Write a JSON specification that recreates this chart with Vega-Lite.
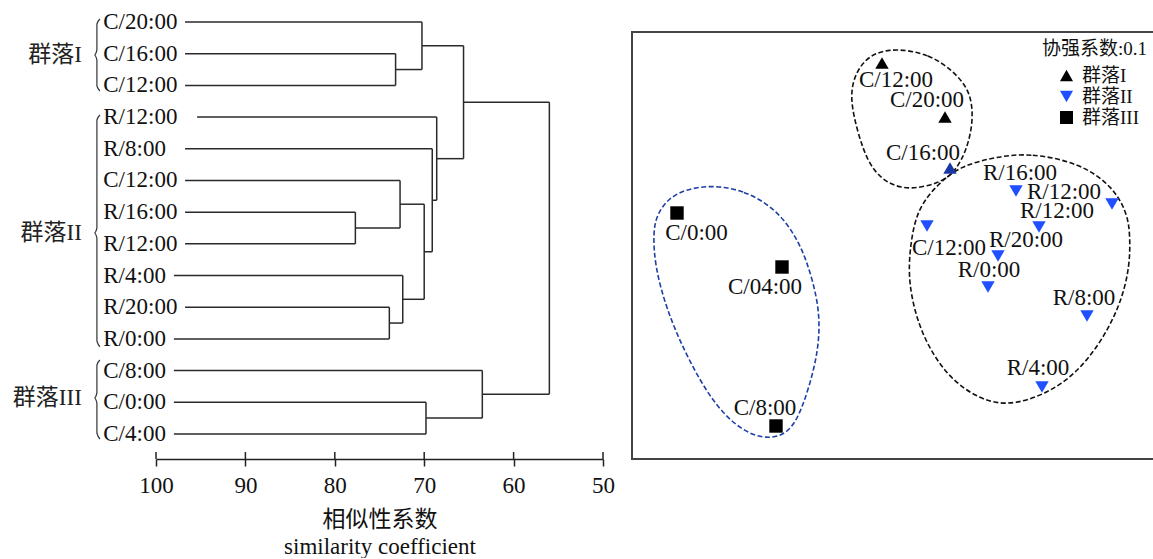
{
  "$schema": "https://vega.github.io/schema/vega-lite/v6.json",
  "padding": {"left": 12, "top": 10, "right": 0, "bottom": 0},
  "bounds": "flush",
  "spacing": 29,
  "config": {
    "font": "Liberation Serif, Noto Sans CJK SC",
    "view": {"stroke": null},
    "text": {"font": "Liberation Serif, Noto Sans CJK SC"}
  },
  "hconcat": [
    {
      "width": 447,
      "height": 427,
      "layer": [
        {
          "data": {"values": [
            {"s1": 96.75, "s2": 70.25, "i1": 0, "i2": 0},
            {"s1": 96.75, "s2": 73.2, "i1": 1, "i2": 1},
            {"s1": 96.75, "s2": 73.2, "i1": 2, "i2": 2},
            {"s1": 73.2, "s2": 70.25, "i1": 1.5, "i2": 1.5},
            {"s1": 70.25, "s2": 65.6, "i1": 0.75, "i2": 0.75},
            {"s1": 95.4, "s2": 68.6, "i1": 3, "i2": 3},
            {"s1": 96.75, "s2": 69.1, "i1": 4, "i2": 4},
            {"s1": 96.75, "s2": 72.7, "i1": 5, "i2": 5},
            {"s1": 96.75, "s2": 77.7, "i1": 6, "i2": 6},
            {"s1": 96.75, "s2": 77.7, "i1": 7, "i2": 7},
            {"s1": 77.7, "s2": 72.7, "i1": 6.5, "i2": 6.5},
            {"s1": 72.7, "s2": 70.0, "i1": 5.75, "i2": 5.75},
            {"s1": 98.0, "s2": 72.4, "i1": 8, "i2": 8},
            {"s1": 96.75, "s2": 73.9, "i1": 9, "i2": 9},
            {"s1": 98.0, "s2": 73.9, "i1": 10, "i2": 10},
            {"s1": 73.9, "s2": 72.4, "i1": 9.5, "i2": 9.5},
            {"s1": 72.4, "s2": 70.0, "i1": 8.75, "i2": 8.75},
            {"s1": 70.0, "s2": 69.1, "i1": 7.25, "i2": 7.25},
            {"s1": 69.1, "s2": 68.6, "i1": 5.625, "i2": 5.625},
            {"s1": 68.6, "s2": 65.6, "i1": 4.3125, "i2": 4.3125},
            {"s1": 65.6, "s2": 56.0, "i1": 2.53, "i2": 2.53},
            {"s1": 98.0, "s2": 63.5, "i1": 11, "i2": 11},
            {"s1": 98.0, "s2": 69.8, "i1": 12, "i2": 12},
            {"s1": 98.0, "s2": 69.8, "i1": 13, "i2": 13},
            {"s1": 69.8, "s2": 63.5, "i1": 12.5, "i2": 12.5},
            {"s1": 63.5, "s2": 56.0, "i1": 11.75, "i2": 11.75},
            {"s1": 73.2, "s2": 73.2, "i1": 1, "i2": 2},
            {"s1": 70.25, "s2": 70.25, "i1": 0, "i2": 1.5},
            {"s1": 77.7, "s2": 77.7, "i1": 6, "i2": 7},
            {"s1": 72.7, "s2": 72.7, "i1": 5, "i2": 6.5},
            {"s1": 73.9, "s2": 73.9, "i1": 9, "i2": 10},
            {"s1": 72.4, "s2": 72.4, "i1": 8, "i2": 9.5},
            {"s1": 70.0, "s2": 70.0, "i1": 5.75, "i2": 8.75},
            {"s1": 69.1, "s2": 69.1, "i1": 4, "i2": 7.25},
            {"s1": 68.6, "s2": 68.6, "i1": 3, "i2": 5.625},
            {"s1": 65.6, "s2": 65.6, "i1": 0.75, "i2": 4.3125},
            {"s1": 69.8, "s2": 69.8, "i1": 12, "i2": 13},
            {"s1": 63.5, "s2": 63.5, "i1": 11, "i2": 12.5},
            {"s1": 56.0, "s2": 56.0, "i1": 2.53, "i2": 11.75}
          ]},
          "mark": {"type": "rule", "color": "#2a2a2a", "strokeWidth": 1.5},
          "encoding": {
            "x": {
              "field": "s1", "type": "quantitative",
              "scale": {"domain": [100, 50], "nice": false, "zero": false},
              "axis": {
                "values": [100, 90, 80, 70, 60, 50],
                "grid": false,
                "domainColor": "#222", "domainWidth": 1.5,
                "tickColor": "#222", "tickWidth": 1.5, "tickSize": 7,
                "labelFontSize": 23, "labelColor": "#111", "labelPadding": 8,
                "labelFlush": false, "labelOverlap": false,
                "labelFont": "Liberation Serif",
                "title": ["相似性系数", "similarity coefficient"],
                "titleFont": "Liberation Serif, Noto Sans CJK SC",
                "titleFontSize": 23, "titleFontWeight": "normal", "titleColor": "#111",
                "titlePadding": 11, "titleLineHeight": 27
              }
            },
            "x2": {"field": "s2"},
            "y": {
              "field": "i1", "type": "quantitative",
              "scale": {"domain": [0.3156, 13.79], "reverse": true, "nice": false, "zero": false},
              "axis": null
            },
            "y2": {"field": "i2"}
          }
        },
        {
          "data": {"values": [{"tick": 100}, {"tick": 90}, {"tick": 80}, {"tick": 70}, {"tick": 60}, {"tick": 50}]},
          "mark": {"type": "rule", "color": "#222", "strokeWidth": 1.5},
          "encoding": {
            "x": {"field": "tick", "type": "quantitative"},
            "y": {"datum": 13.57},
            "y2": {"datum": 13.79}
          }
        },
        {
          "data": {"values": [
            {"name": "C/20:00", "i": 0},
            {"name": "C/16:00", "i": 1},
            {"name": "C/12:00", "i": 2},
            {"name": "R/12:00", "i": 3},
            {"name": "R/8:00", "i": 4},
            {"name": "C/12:00", "i": 5},
            {"name": "R/16:00", "i": 6},
            {"name": "R/12:00", "i": 7},
            {"name": "R/4:00", "i": 8},
            {"name": "R/20:00", "i": 9},
            {"name": "R/0:00", "i": 10},
            {"name": "C/8:00", "i": 11},
            {"name": "C/0:00", "i": 12},
            {"name": "C/4:00", "i": 13}
          ]},
          "mark": {"type": "text", "align": "left", "baseline": "middle", "fontSize": 23, "color": "#111"},
          "encoding": {
            "x": {"datum": 105.9},
            "y": {"field": "i", "type": "quantitative"},
            "text": {"field": "name"}
          }
        },
        {
          "data": {"values": [
            {"b": "I", "k": 0, "s": 106.27, "i": -0.095},
            {"b": "I", "k": 1, "s": 106.61, "i": 0.063},
            {"b": "I", "k": 2, "s": 106.61, "i": 0.884},
            {"b": "I", "k": 3, "s": 106.89, "i": 1.041},
            {"b": "I", "k": 4, "s": 106.61, "i": 1.199},
            {"b": "I", "k": 5, "s": 106.61, "i": 2.02},
            {"b": "I", "k": 6, "s": 106.27, "i": 2.177},
            {"b": "II", "k": 0, "s": 106.27, "i": 2.935},
            {"b": "II", "k": 1, "s": 106.61, "i": 3.092},
            {"b": "II", "k": 2, "s": 106.61, "i": 6.5},
            {"b": "II", "k": 3, "s": 106.89, "i": 6.658},
            {"b": "II", "k": 4, "s": 106.61, "i": 6.816},
            {"b": "II", "k": 5, "s": 106.61, "i": 10.066},
            {"b": "II", "k": 6, "s": 106.27, "i": 10.246},
            {"b": "III", "k": 0, "s": 106.27, "i": 10.666},
            {"b": "III", "k": 1, "s": 106.61, "i": 10.824},
            {"b": "III", "k": 2, "s": 106.61, "i": 11.707},
            {"b": "III", "k": 3, "s": 106.89, "i": 11.865},
            {"b": "III", "k": 4, "s": 106.61, "i": 12.023},
            {"b": "III", "k": 5, "s": 106.61, "i": 12.97},
            {"b": "III", "k": 6, "s": 106.27, "i": 13.159}
          ]},
          "mark": {"type": "line", "color": "#333", "strokeWidth": 1.2, "interpolate": "monotone"},
          "encoding": {
            "x": {"field": "s", "type": "quantitative"},
            "y": {"field": "i", "type": "quantitative"},
            "detail": {"field": "b"},
            "order": {"field": "k", "type": "quantitative"}
          }
        },
        {
          "data": {"values": [
            {"grp": "群落I", "i": 1.041},
            {"grp": "群落II", "i": 6.658},
            {"grp": "群落III", "i": 11.865}
          ]},
          "mark": {"type": "text", "align": "right", "baseline": "middle", "fontSize": 23, "color": "#222"},
          "encoding": {
            "x": {"datum": 108.3},
            "y": {"field": "i", "type": "quantitative"},
            "text": {"field": "grp"}
          }
        }
      ]
    },
    {
      "width": 523,
      "height": 427,
      "view": {"stroke": "#444", "strokeWidth": 2},
      "layer": [
        {
          "data": {"values": [
            {"e": "I", "k": 0, "x": 2.547, "y": 4.107},
            {"e": "I", "k": 1, "x": 2.98, "y": 4.05},
            {"e": "I", "k": 2, "x": 3.28, "y": 3.813},
            {"e": "I", "k": 3, "x": 3.397, "y": 3.613},
            {"e": "I", "k": 4, "x": 3.41, "y": 3.35},
            {"e": "I", "k": 5, "x": 3.347, "y": 3.08},
            {"e": "I", "k": 6, "x": 3.23, "y": 2.86},
            {"e": "I", "k": 7, "x": 3.08, "y": 2.75},
            {"e": "I", "k": 8, "x": 2.78, "y": 2.68},
            {"e": "I", "k": 9, "x": 2.56, "y": 2.74},
            {"e": "I", "k": 10, "x": 2.41, "y": 2.88},
            {"e": "I", "k": 11, "x": 2.31, "y": 3.08},
            {"e": "I", "k": 12, "x": 2.21, "y": 3.43},
            {"e": "I", "k": 13, "x": 2.18, "y": 3.71},
            {"e": "I", "k": 14, "x": 2.30, "y": 3.98},
            {"e": "II", "k": 0, "x": 3.647, "y": 3.013},
            {"e": "II", "k": 1, "x": 3.98, "y": 3.05},
            {"e": "II", "k": 2, "x": 4.48, "y": 2.95},
            {"e": "II", "k": 3, "x": 4.81, "y": 2.713},
            {"e": "II", "k": 4, "x": 4.95, "y": 2.45},
            {"e": "II", "k": 5, "x": 4.98, "y": 2.25},
            {"e": "II", "k": 6, "x": 4.98, "y": 1.913},
            {"e": "II", "k": 7, "x": 4.88, "y": 1.513},
            {"e": "II", "k": 8, "x": 4.647, "y": 1.08},
            {"e": "II", "k": 9, "x": 4.31, "y": 0.713},
            {"e": "II", "k": 10, "x": 3.81, "y": 0.513},
            {"e": "II", "k": 11, "x": 3.48, "y": 0.58},
            {"e": "II", "k": 12, "x": 3.147, "y": 0.813},
            {"e": "II", "k": 13, "x": 2.88, "y": 1.25},
            {"e": "II", "k": 14, "x": 2.76, "y": 1.75},
            {"e": "II", "k": 15, "x": 2.78, "y": 2.113},
            {"e": "II", "k": 16, "x": 2.847, "y": 2.48},
            {"e": "II", "k": 17, "x": 3.047, "y": 2.73},
            {"e": "II", "k": 18, "x": 3.28, "y": 2.92},
            {"e": "III", "k": 0, "x": 0.747, "y": 2.737},
            {"e": "III", "k": 1, "x": 1.13, "y": 2.68},
            {"e": "III", "k": 2, "x": 1.447, "y": 2.48},
            {"e": "III", "k": 3, "x": 1.63, "y": 2.23},
            {"e": "III", "k": 4, "x": 1.747, "y": 1.98},
            {"e": "III", "k": 5, "x": 1.86, "y": 1.58},
            {"e": "III", "k": 6, "x": 1.88, "y": 1.25},
            {"e": "III", "k": 7, "x": 1.83, "y": 0.913},
            {"e": "III", "k": 8, "x": 1.71, "y": 0.513},
            {"e": "III", "k": 9, "x": 1.58, "y": 0.25},
            {"e": "III", "k": 10, "x": 1.347, "y": 0.18},
            {"e": "III", "k": 11, "x": 1.08, "y": 0.28},
            {"e": "III", "k": 12, "x": 0.81, "y": 0.55},
            {"e": "III", "k": 13, "x": 0.547, "y": 1.013},
            {"e": "III", "k": 14, "x": 0.347, "y": 1.48},
            {"e": "III", "k": 15, "x": 0.23, "y": 1.913},
            {"e": "III", "k": 16, "x": 0.21, "y": 2.25},
            {"e": "III", "k": 17, "x": 0.25, "y": 2.45},
            {"e": "III", "k": 18, "x": 0.41, "y": 2.65}
          ]},
          "mark": {"type": "line", "interpolate": "basis-closed", "strokeWidth": 1.6, "strokeDash": [5, 2.5]},
          "encoding": {
            "x": {"field": "x", "type": "quantitative", "scale": {"domain": [0, 5.23], "nice": false, "zero": false}, "axis": null},
            "y": {"field": "y", "type": "quantitative", "scale": {"domain": [-0.01, 4.26], "nice": false, "zero": false}, "axis": null},
            "detail": {"field": "e"},
            "order": {"field": "k", "type": "quantitative"},
            "stroke": {"field": "e", "type": "nominal", "scale": {"domain": ["I", "II", "III"], "range": ["#111111", "#111111", "#1f3fa6"]}, "legend": null}
          }
        },
        {
          "data": {"name": "pts", "values": [
            {"t": "C/12:00", "g": "群落I", "x": 2.50, "y": 3.95, "lx": 2.64, "ly": 3.78},
            {"t": "C/20:00", "g": "群落I", "x": 3.13, "y": 3.41, "lx": 2.95, "ly": 3.58},
            {"t": "C/16:00", "g": "群落I", "x": 3.18, "y": 2.90, "lx": 2.91, "ly": 3.05},
            {"t": "R/16:00", "g": "群落II", "x": 3.84, "y": 2.67, "lx": 3.88, "ly": 2.85},
            {"t": "R/12:00", "g": "群落II", "x": 4.80, "y": 2.54, "lx": 4.32, "ly": 2.665},
            {"t": "R/12:00", "g": "群落II", "x": 4.07, "y": 2.31, "lx": 4.25, "ly": 2.47},
            {"t": "C/12:00", "g": "群落II", "x": 2.95, "y": 2.32, "lx": 3.17, "ly": 2.10},
            {"t": "R/20:00", "g": "群落II", "x": 3.66, "y": 2.02, "lx": 3.94, "ly": 2.185},
            {"t": "R/0:00", "g": "群落II", "x": 3.56, "y": 1.71, "lx": 3.57, "ly": 1.88},
            {"t": "R/8:00", "g": "群落II", "x": 4.55, "y": 1.42, "lx": 4.52, "ly": 1.605},
            {"t": "R/4:00", "g": "群落II", "x": 4.10, "y": 0.71, "lx": 4.06, "ly": 0.90},
            {"t": "C/0:00", "g": "群落III", "x": 0.45, "y": 2.45, "lx": 0.645, "ly": 2.25},
            {"t": "C/04:00", "g": "群落III", "x": 1.50, "y": 1.91, "lx": 1.33, "ly": 1.71},
            {"t": "C/8:00", "g": "群落III", "x": 1.44, "y": 0.32, "lx": 1.33, "ly": 0.50}
          ]},
          "mark": {"type": "point", "filled": true, "opacity": 1, "size": 180},
          "encoding": {
            "x": {"field": "x", "type": "quantitative"},
            "y": {"field": "y", "type": "quantitative"},
            "shape": {
              "field": "g", "type": "nominal",
              "scale": {"domain": ["群落I", "群落II", "群落III"], "range": ["triangle-up", "triangle-down", "square"]},
              "legend": {
                "title": "协强系数:0.1", "orient": "none", "legendX": 886, "legendY": 8,
                "titleFontSize": 19, "titleFontWeight": "normal", "titleColor": "#111",
                "titleFont": "Liberation Serif, Noto Sans CJK SC",
                "labelFontSize": 19, "labelColor": "#111",
                "labelFont": "Liberation Serif, Noto Sans CJK SC",
                "symbolSize": 170, "symbolOffset": 15, "labelOffset": 6,
                "rowPadding": 1, "titlePadding": 7, "padding": 0, "symbolStrokeWidth": 0
              }
            },
            "color": {
              "condition": {"test": "datum.t === 'C/16:00'", "value": "#1a37a8"},
              "field": "g", "type": "nominal",
              "scale": {"domain": ["群落I", "群落II", "群落III"], "range": ["#000000", "#1f4fff", "#000000"]},
              "legend": {
                "title": "协强系数:0.1", "orient": "none", "legendX": 886, "legendY": 8,
                "titleFontSize": 19, "titleFontWeight": "normal", "titleColor": "#111",
                "titleFont": "Liberation Serif, Noto Sans CJK SC",
                "labelFontSize": 19, "labelColor": "#111",
                "labelFont": "Liberation Serif, Noto Sans CJK SC",
                "symbolSize": 170, "symbolOffset": 15, "labelOffset": 6,
                "rowPadding": 1, "titlePadding": 7, "padding": 0, "symbolStrokeWidth": 0
              }
            }
          }
        },
        {
          "data": {"name": "pts"},
          "mark": {"type": "text", "align": "center", "baseline": "middle", "fontSize": 23, "color": "#111"},
          "encoding": {
            "x": {"field": "lx", "type": "quantitative"},
            "y": {"field": "ly", "type": "quantitative"},
            "text": {"field": "t"}
          }
        }
      ]
    }
  ]
}
